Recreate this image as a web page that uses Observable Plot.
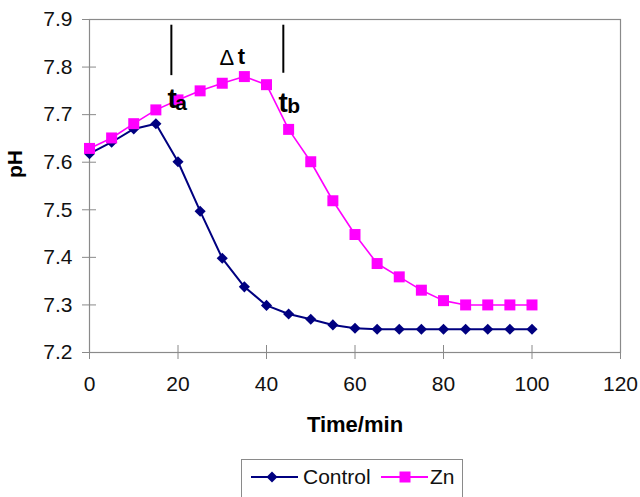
<!DOCTYPE html>
<html>
<head>
<meta charset="utf-8">
<script src="https://cdn.jsdelivr.net/npm/d3@7"></script>
<script src="https://cdn.jsdelivr.net/npm/@observablehq/plot@0.6"></script>
<style>
  html, body { margin: 0; padding: 0; background: #fff; overflow: hidden; }
  body { width: 640px; height: 497px; position: relative; font-family: "Liberation Sans", Arial, sans-serif; }
  #legend { position: absolute; left: 241px; top: 459px; width: 222px; height: 44px; border: 1px solid #8a8a8a; box-sizing: border-box; }
  #legend svg { position: absolute; left: 0; top: 0; }
  #legend span { position: absolute; font-size: 21px; color: #111; line-height: 1; }
</style>
</head>
<body>
<div id="chart"></div>
<div id="legend"></div>
<script>
// ---- data ----
const time = [0,5,10,15,20,25,30,35,40,45,50,55,60,65,70,75,80,85,90,95,100];
const controlPH = [7.618,7.642,7.670,7.681,7.601,7.497,7.398,7.338,7.299,7.281,7.270,7.258,7.251,7.249,7.249,7.249,7.249,7.249,7.249,7.249,7.249];
const znPH = [7.629,7.651,7.681,7.710,7.731,7.750,7.766,7.780,7.763,7.669,7.601,7.519,7.448,7.387,7.359,7.331,7.309,7.300,7.300,7.300,7.300];
const seriesNames = ["Control", "Zn"];
const xTicks = [0,20,40,60,80,100,120];
const yTicks = [7.2,7.3,7.4,7.5,7.6,7.7,7.8,7.9];
// annotation markers (time) and their vertical extent (pH)
const markerTimes = [18.5, 43.8];
const markerTop = [7.888, 7.888];
const markerBottom = [7.782, 7.787];
// annotation labels
const mainLabels = [{text: "t", x: 17.6, y: 7.715}, {text: "t", x: 42.7, y: 7.705}];
const subLabels = [{text: "a", x: 19.4, y: 7.709}, {text: "b", x: 44.7, y: 7.703}];
const deltaSymbol = [{text: "\u0394", x: 29.4, y: 7.804}];
const deltaT = [{text: "t", x: 33.5, y: 7.806}];

const colors = {Control: "#000080", Zn: "#ff00ff"};

const rows = [];
time.forEach((t, i) => {
  rows.push({series: "Control", time: t, ph: controlPH[i]});
  rows.push({series: "Zn", time: t, ph: znPH[i]});
});
const ctrl = rows.filter(d => d.series === "Control");
const zn = rows.filter(d => d.series === "Zn");
const markers = markerTimes.map((t, i) => ({t, y1: markerBottom[i], y2: markerTop[i]}));

const chart = Plot.plot({
  width: 640,
  height: 455,
  marginLeft: 89,
  marginRight: 20,
  marginTop: 19,
  marginBottom: 103,
  style: {fontFamily: "'Liberation Sans', Arial, sans-serif", fontSize: "21px", color: "#111", background: "#fff"},
  x: {domain: [0, 120]},
  y: {domain: [7.2, 7.9]},
  marks: [
    Plot.frame({stroke: "#8a8a8a", strokeWidth: 1.2}),
    Plot.axisY({ticks: yTicks, tickFormat: d => d.toFixed(1), tickSize: 14, dx: 7, tickPadding: 10, stroke: "#8a8a8a", fill: "#111", label: null, fontSize: 21}),
    Plot.axisX({ticks: xTicks, tickFormat: d => String(d), tickSize: 14, dy: -7, tickPadding: 17, stroke: "#8a8a8a", fill: "#111", label: null, fontSize: 21}),
    Plot.text(["pH"], {frameAnchor: "left", dx: -74, dy: -8, rotate: -90, fontWeight: "bold", fontSize: 21, fill: "#000"}),
    Plot.text(["Time/min"], {frameAnchor: "bottom", dy: 79, lineAnchor: "bottom", fontWeight: "bold", fontSize: 22, fill: "#000"}),
    Plot.line(ctrl, {x: "time", y: "ph", stroke: colors.Control, strokeWidth: 2}),
    Plot.dot(ctrl, {x: "time", y: "ph", symbol: "diamond2", r: 5, fill: colors.Control, stroke: "none"}),
    Plot.line(zn, {x: "time", y: "ph", stroke: colors.Zn, strokeWidth: 1.6}),
    Plot.dot(zn, {x: "time", y: "ph", symbol: "square", r: 6.2, fill: colors.Zn, stroke: "none"}),
    Plot.ruleX(markers, {x: "t", y1: "y1", y2: "y2", stroke: "#000", strokeWidth: 2}),
    Plot.text(mainLabels, {x: "x", y: "y", text: "text", textAnchor: "start", lineAnchor: "bottom", fontWeight: "bold", fontSize: 28, fill: "#000"}),
    Plot.text(subLabels, {x: "x", y: "y", text: "text", textAnchor: "start", lineAnchor: "bottom", fontWeight: "bold", fontSize: 21, fill: "#000"}),
    Plot.text(deltaSymbol, {x: "x", y: "y", text: "text", textAnchor: "start", lineAnchor: "bottom", fontWeight: "normal", fontSize: 22, fill: "#000"}),
    Plot.text(deltaT, {x: "x", y: "y", text: "text", textAnchor: "start", lineAnchor: "bottom", fontWeight: "bold", fontSize: 22, fill: "#000"})
  ]
});
document.getElementById("chart").appendChild(chart);

// ---- legend ----
const legend = document.getElementById("legend");
const ns = "http://www.w3.org/2000/svg";
const lsvg = document.createElementNS(ns, "svg");
lsvg.setAttribute("width", 222);
lsvg.setAttribute("height", 44);
const items = [
  {name: seriesNames[0], x0: 9, x1: 56, mx: 30, textX: 61, sym: "diamond"},
  {name: seriesNames[1], x0: 139, x1: 186, mx: 163, textX: 188, sym: "square"}
];
items.forEach(it => {
  const ln = document.createElementNS(ns, "line");
  ln.setAttribute("x1", it.x0); ln.setAttribute("x2", it.x1);
  ln.setAttribute("y1", 17); ln.setAttribute("y2", 17);
  ln.setAttribute("stroke", colors[it.name]); ln.setAttribute("stroke-width", 2);
  lsvg.appendChild(ln);
  const p = document.createElementNS(ns, "path");
  const s = it.sym === "diamond" ? "M0,-5.5L5.5,0L0,5.5L-5.5,0Z" : "M-5.5,-5.5H5.5V5.5H-5.5Z";
  p.setAttribute("d", s);
  p.setAttribute("transform", `translate(${it.mx},17)`);
  p.setAttribute("fill", colors[it.name]);
  lsvg.appendChild(p);
  const sp = document.createElement("span");
  sp.textContent = it.name;
  sp.style.left = it.textX + "px";
  sp.style.top = "6px";
  legend.appendChild(sp);
});
legend.appendChild(lsvg);
</script>
</body>
</html>
